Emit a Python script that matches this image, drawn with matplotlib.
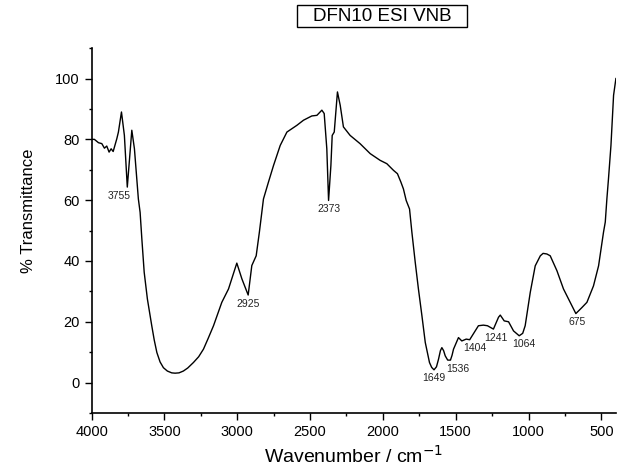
import matplotlib
matplotlib.use("Agg")
import matplotlib.pyplot as plt
from matplotlib.patches import Rectangle
from matplotlib.ticker import MultipleLocator

plt.rcParams["font.family"] = ["Liberation Sans", "DejaVu Sans"]

# FTIR spectrum
wavenumber = [4000, 3981, 3953, 3930, 3912, 3896, 3880, 3866, 3852, 3840, 3827,
              3816, 3795, 3775, 3755, 3724, 3706, 3690, 3679, 3667, 3655, 3639,
              3617, 3587, 3570, 3552, 3530, 3507, 3480, 3450, 3427, 3400, 3370,
              3340, 3301, 3265, 3232, 3200, 3163, 3135, 3106, 3060,
              3003, 2968, 2925, 2900, 2870, 2848, 2820, 2786, 2751, 2705, 2659,
              2591, 2545, 2488, 2453, 2419, 2403, 2385, 2373, 2357, 2348, 2334,
              2312, 2293, 2271, 2225, 2157, 2087, 2019, 1973, 1927, 1900, 1876,
              1859, 1840, 1817, 1801, 1778, 1756, 1732, 1709, 1680, 1665, 1649,
              1632, 1618, 1605, 1595, 1583, 1572, 1555, 1536, 1525, 1515, 1481,
              1458, 1428, 1404, 1373, 1344, 1310, 1282, 1241, 1206, 1194, 1167,
              1137, 1103, 1064, 1040, 1023, 988, 954, 919, 900, 874, 851, 805,
              760, 714, 675, 633, 599, 554, 519, 485, 473, 462, 451, 434, 416, 400]
transmittance = [80.0, 80.0, 78.9, 78.6, 77.1, 77.8, 75.8, 76.9, 76.0, 78.0, 80.2,
                 82.4, 89.0, 81.3, 64.3, 83.0, 76.9, 67.0, 60.4, 56.0, 47.2, 36.3,
                 27.5, 18.7, 14.0, 9.9, 6.8, 4.9, 3.8, 3.2, 3.1, 3.2, 3.8,
                 4.8, 6.6, 8.5, 11.0, 14.5, 18.7, 22.5, 26.4, 30.8,
                 39.3, 34.1, 28.8, 38.5, 41.7, 49.5, 60.4, 65.9, 71.4, 78.0, 82.4,
                 84.6, 86.3, 87.7, 87.9, 89.6, 88.5, 76.9, 59.9, 71.4, 81.3, 82.4,
                 95.6, 91.2, 84.1, 81.3, 78.6, 75.3, 73.1, 72.0, 69.8, 68.7, 65.9,
                 63.7, 59.9, 57.1, 49.5, 39.6, 30.8, 22.0, 13.2, 6.6, 5.0, 4.2,
                 5.2, 7.7, 10.5, 11.5, 10.5, 8.8, 7.4, 7.4, 9.0, 11.0, 14.8,
                 13.7, 14.3, 14.1, 16.5, 18.7, 18.9, 18.7, 17.6, 21.5, 22.2, 20.3,
                 20.0, 17.0, 15.4, 16.2, 18.7, 29.7, 38.4, 41.7, 42.5, 42.3, 41.7, 36.8,
                 30.8, 26.4, 22.7, 24.7, 26.4, 31.8, 38.4, 49.5, 52.8, 60.4, 67.0,
                 78.0, 94.5, 100.0]

peak_labels = ["3755", "2925", "2373", "1649", "1536", "1404", "1241", "1064", "675"]
peak_x = [3755, 2925, 2373, 1649, 1536, 1404, 1241, 1064, 675]
peak_y = [64.3, 28.8, 59.9, 4.2, 7.4, 14.1, 17.6, 15.4, 22.7]
label_dx = [-6, 0, 0, 0, 5, 4, 2, 3, 1]

fig = plt.figure(figsize=(6.19, 4.72), dpi=100)
ax = fig.add_axes([0.148, 0.125, 0.847, 0.773])

ax.plot(wavenumber, transmittance, color="black", lw=1.0)

for lab, x, y, dx in zip(peak_labels, peak_x, peak_y, label_dx):
    ax.annotate(lab, (x, y), xytext=(dx, -2.5), textcoords="offset points",
                ha="center", va="top", fontsize=7.5, color="#222222")

ax.set_xlim(4000, 400)
ax.set_ylim(-10, 110)
ax.xaxis.set_major_locator(MultipleLocator(500))
ax.xaxis.set_minor_locator(MultipleLocator(250))
ax.yaxis.set_major_locator(MultipleLocator(20))
ax.yaxis.set_minor_locator(MultipleLocator(10))
ax.tick_params(which="major", length=5, width=1, labelsize=10.5, direction="out")
ax.tick_params(which="minor", length=2.5, width=1, direction="out")

ax.spines["top"].set_visible(False)
ax.spines["right"].set_visible(False)
ax.spines["left"].set_linewidth(1.2)
ax.spines["bottom"].set_linewidth(1.2)

ax.set_xlabel("Wavenumber / cm$^{-1}$", fontsize=14)
ax.xaxis.set_label_coords(0.5, -0.088)
ax.set_ylabel("% Transmittance", fontsize=12)
ax.yaxis.set_label_coords(-0.106, 0.553)

fig.patches.append(Rectangle((0.480, 0.943), 0.275, 0.0466, transform=fig.transFigure,
                             facecolor="white", edgecolor="black", lw=1))
fig.text(0.617, 0.966, "DFN10 ESI VNB", ha="center", va="center", fontsize=13.5)

fig.savefig("out.png", dpi=100)
